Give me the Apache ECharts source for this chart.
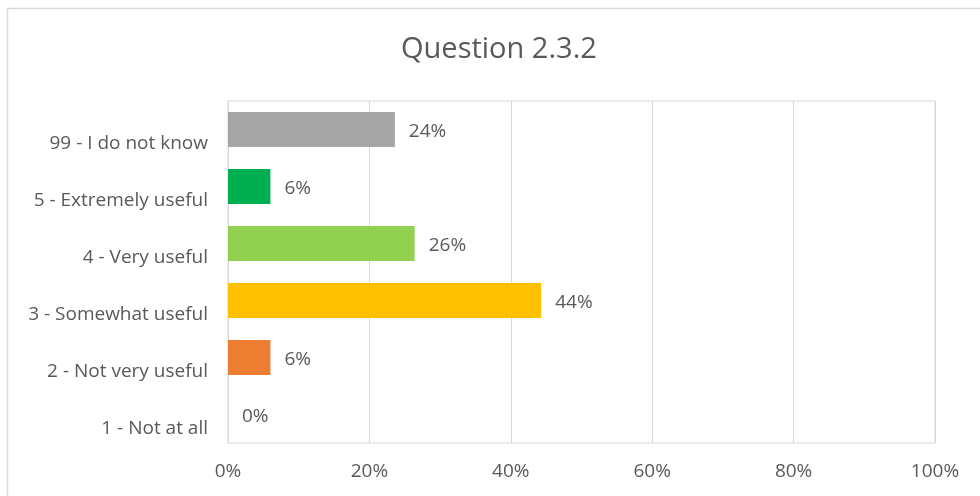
<!DOCTYPE html>
<html>
<head>
<meta charset="utf-8">
<script src="https://cdn.jsdelivr.net/npm/echarts@6/dist/echarts.min.js"></script>
<style>
  html, body { margin: 0; padding: 0; background: #fff; }
  #chart { width: 980px; height: 496px; }
</style>
</head>
<body>
<div id="chart"></div>
<script>
var categories = ['99 - I do not know', '5 - Extremely useful', '4 - Very useful', '3 - Somewhat useful', '2 - Not very useful', '1 - Not at all']
var values = [23.6, 6.0, 26.4, 44.3, 6.0, 0]
var barColors = ['#A5A5A5', '#00B050', '#92D050', '#FFC000', '#ED7D31', '#5B9BD5']
var textColor = '#595959'
var fontName = 'Open Sans'

var chart = echarts.init(document.getElementById('chart'))
chart.setOption({
  animation: false,
  title: {
    text: 'Question 2.3.2',
    left: 396,
    top: 30,
    textStyle: { color: textColor, fontSize: 29, fontWeight: 'normal', fontFamily: fontName }
  },
  graphic: [{
    type: 'rect',
    shape: { x: 7.5, y: 8.5, width: 990, height: 500 },
    style: { fill: 'none', stroke: '#d9d9d9', lineWidth: 1.5 }
  }],
  grid: { left: 228, right: 45, top: 101, bottom: 53, show: true, borderColor: '#d9d9d9', borderWidth: 1 },
  xAxis: {
    type: 'value',
    min: 0,
    max: 100,
    interval: 20,
    axisLabel: {
      formatter: '{value}%',
      color: textColor,
      fontSize: 19,
      fontFamily: fontName,
      margin: 19
    },
    splitLine: { lineStyle: { color: '#d9d9d9', width: 1 } },
    axisLine: { show: false },
    axisTick: { show: false }
  },
  yAxis: {
    type: 'category',
    data: categories,
    inverse: true,
    axisLabel: {
      color: textColor,
      fontSize: 19,
      fontFamily: fontName,
      margin: 20,
      verticalAlign: 'bottom',
      padding: [0, 0, -24, 0]
    },
    axisLine: { show: true, lineStyle: { color: '#d9d9d9' } },
    axisTick: { show: false },
    splitLine: { show: false }
  },
  series: [{
    type: 'bar',
    data: values.map(function(v, i) {
      return { value: v, itemStyle: { color: barColors[i] } }
    }),
    barWidth: '61%',
    label: {
      show: true,
      position: 'right',
      distance: 14,
      color: textColor,
      fontSize: 19,
      fontFamily: fontName,
      offset: [0, 2],
      formatter: function(p) { return Math.round(p.value) + '%' }
    }
  }]
})
</script>
</body>
</html>
